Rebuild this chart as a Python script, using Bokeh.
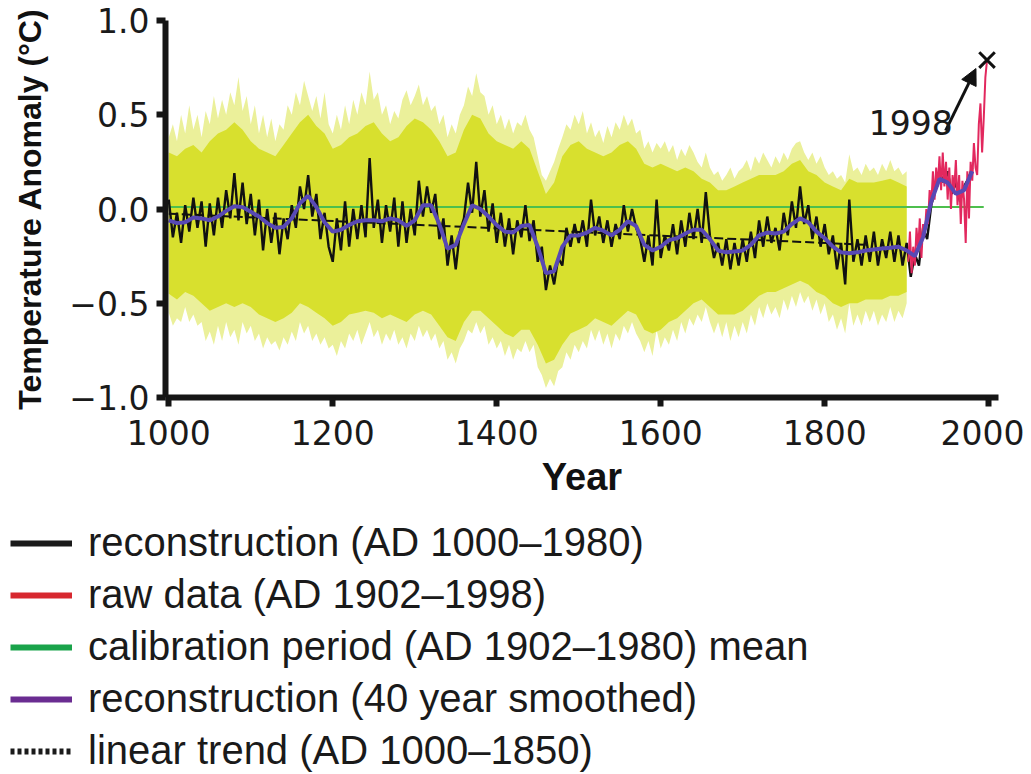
import numpy as np
from bokeh.plotting import figure
from bokeh.models import (Range1d, FixedTicker, Arrow, NormalHead, Label,
                          Legend, LegendItem)
from bokeh.layouts import column
from bokeh.embed import file_html
from bokeh.resources import INLINE

# ---------------- data ----------------
recon_years = list(range(1000, 1981, 5))
recon_vals = [
    0.05, -0.15, -0.02, -0.18, 0.02, -0.12, 0.06, -0.1, 0.04, -0.2, 0.03, -0.14, 0.06, -0.1, 0.1, -0.05, 0.19, -0.06, 0.14, -0.08,
    0.08, -0.14, 0.05, -0.22, 0.0, -0.18, -0.02, -0.24, -0.05, -0.16, 0.02, -0.1, 0.12, 0.0, 0.18, -0.04, 0.08, -0.16, -0.02, -0.2,
    -0.28, -0.05, -0.22, 0.04, -0.2, 0.0, -0.16, 0.02, -0.15, 0.27, -0.1, 0.05, -0.18, 0.02, -0.12, 0.06, -0.2, 0.04, -0.18, 0.0,
    -0.14, 0.15, -0.04, 0.12, -0.02, 0.08, -0.16, -0.05, -0.3, -0.14, -0.32, -0.12, -0.05, 0.14, -0.02, 0.25, -0.04, 0.1, -0.12, 0.03,
    -0.18, -0.02, -0.2, -0.05, -0.24, -0.06, -0.15, 0.02, -0.17, -0.06, -0.28, -0.2, -0.43, -0.3, -0.4, -0.26, -0.3, -0.1, -0.2, -0.08,
    -0.18, -0.06, -0.2, 0.05, -0.14, -0.04, -0.18, -0.06, -0.2, -0.08, -0.16, 0.02, -0.12, 0.0, -0.1, -0.16, -0.28, -0.14, -0.3, 0.05,
    -0.26, -0.14, -0.22, -0.08, -0.24, -0.06, -0.2, -0.02, -0.16, 0.0, -0.18, 0.09, -0.14, -0.26, -0.18, -0.3, -0.16, -0.32, -0.18, -0.3,
    -0.16, -0.28, -0.12, -0.26, -0.06, -0.2, -0.04, -0.18, -0.1, -0.22, -0.02, -0.14, 0.04, -0.1, 0.12, -0.08, 0.02, -0.16, -0.04, -0.2,
    -0.08, -0.24, -0.14, -0.32, -0.18, -0.4, 0.05, -0.28, -0.16, -0.3, -0.14, -0.28, -0.12, -0.3, -0.16, -0.26, -0.12, -0.28, -0.14, -0.3,
    -0.18, -0.36, -0.24, -0.3, -0.1, -0.16, 0.02, 0.1, 0.2, 0.14, 0.2, 0.08, 0.14, 0.04, 0.12, 0.16, 0.22,
]

smooth_years = list(range(1000, 1981, 10))
smooth_vals = [
    -0.06, -0.075, -0.07, -0.045, -0.05, -0.06, -0.04, -0.01, 0.015, 0.01,
    -0.015, -0.04, -0.075, -0.1, -0.095, -0.05, 0.03, 0.07, 0.01, -0.07,
    -0.12, -0.11, -0.085, -0.065, -0.06, -0.06, -0.065, -0.05, -0.06, -0.09,
    -0.06, 0.02, 0.02, -0.08, -0.21, -0.19, -0.08, 0.02, 0.0, -0.04,
    -0.085, -0.12, -0.125, -0.09, -0.085, -0.2, -0.34, -0.33, -0.2, -0.14,
    -0.14, -0.125, -0.1, -0.115, -0.14, -0.11, -0.065, -0.09, -0.19, -0.22,
    -0.2, -0.165, -0.155, -0.13, -0.11, -0.11, -0.16, -0.22, -0.23, -0.225,
    -0.22, -0.19, -0.14, -0.125, -0.13, -0.12, -0.08, -0.05, -0.07, -0.12,
    -0.155, -0.2, -0.23, -0.235, -0.23, -0.22, -0.215, -0.21, -0.205, -0.2,
    -0.22, -0.25, -0.15, 0.04, 0.16, 0.14, 0.08, 0.1, 0.2,
]

band_years = list(range(1000, 1901, 5))
band_hi = [
    0.38, 0.45, 0.36, 0.5, 0.4, 0.55, 0.42, 0.5, 0.38, 0.52, 0.45, 0.6, 0.48, 0.58, 0.5, 0.62, 0.55, 0.7, 0.52, 0.6,
    0.45, 0.55, 0.4, 0.5, 0.38, 0.48, 0.36, 0.45, 0.42, 0.55, 0.5, 0.62, 0.55, 0.68, 0.6, 0.52, 0.6, 0.48, 0.62, 0.45,
    0.4, 0.5, 0.42, 0.55, 0.45, 0.58, 0.5, 0.62, 0.55, 0.73, 0.58, 0.62, 0.5, 0.55, 0.45, 0.52, 0.48, 0.58, 0.63, 0.55,
    0.6, 0.66, 0.55, 0.6, 0.52, 0.55, 0.45, 0.5, 0.38, 0.45, 0.4, 0.5, 0.55, 0.65, 0.6, 0.72, 0.62, 0.6, 0.5, 0.55,
    0.45, 0.5, 0.42, 0.48, 0.4, 0.46, 0.44, 0.5, 0.42, 0.38, 0.28, 0.18, 0.15, 0.2, 0.25, 0.32, 0.38, 0.45, 0.42, 0.5,
    0.45, 0.52, 0.4, 0.46, 0.38, 0.42, 0.35, 0.44, 0.38, 0.46, 0.42, 0.5, 0.44, 0.48, 0.4, 0.42, 0.32, 0.36, 0.3, 0.35,
    0.32, 0.36, 0.3, 0.34, 0.26, 0.32, 0.28, 0.34, 0.3, 0.25, 0.22, 0.3, 0.22, 0.18, 0.2, 0.15, 0.18, 0.22, 0.16, 0.2,
    0.22, 0.26, 0.2, 0.28, 0.24, 0.3, 0.26, 0.22, 0.28, 0.24, 0.3, 0.26, 0.32, 0.35, 0.36, 0.3, 0.26, 0.3, 0.24, 0.28,
    0.22, 0.18, 0.2, 0.16, 0.18, 0.14, 0.29, 0.2, 0.22, 0.18, 0.24, 0.2, 0.22, 0.18, 0.24, 0.2, 0.26, 0.2, 0.22, 0.18, 0.2,
]
band_lo = [
    -0.55, -0.62, -0.58, -0.6, -0.52, -0.6, -0.56, -0.62, -0.6, -0.7, -0.65, -0.72, -0.62, -0.7, -0.6, -0.68, -0.64, -0.72, -0.6, -0.66,
    -0.62, -0.7, -0.66, -0.74, -0.68, -0.72, -0.7, -0.75, -0.68, -0.72, -0.65, -0.7, -0.6, -0.66, -0.62, -0.7, -0.66, -0.72, -0.68, -0.74,
    -0.72, -0.78, -0.7, -0.74, -0.66, -0.7, -0.64, -0.72, -0.66, -0.6, -0.68, -0.64, -0.72, -0.66, -0.7, -0.64, -0.72, -0.68, -0.74, -0.66,
    -0.7, -0.62, -0.68, -0.64, -0.7, -0.66, -0.74, -0.7, -0.8, -0.76, -0.82, -0.74, -0.7, -0.64, -0.66, -0.6, -0.66, -0.62, -0.72, -0.68,
    -0.74, -0.7, -0.78, -0.72, -0.8, -0.74, -0.76, -0.7, -0.76, -0.72, -0.84, -0.88, -0.95, -0.9, -0.94, -0.86, -0.84, -0.76, -0.8, -0.72,
    -0.76, -0.7, -0.74, -0.64, -0.7, -0.64, -0.72, -0.66, -0.74, -0.66, -0.7, -0.62, -0.66, -0.6, -0.66, -0.7, -0.76, -0.7, -0.78, -0.64,
    -0.74, -0.68, -0.72, -0.64, -0.7, -0.6, -0.66, -0.58, -0.62, -0.56, -0.6, -0.52, -0.6, -0.66, -0.6, -0.68, -0.6, -0.7, -0.62, -0.68,
    -0.6, -0.66, -0.56, -0.62, -0.52, -0.58, -0.5, -0.56, -0.52, -0.58, -0.48, -0.54, -0.46, -0.52, -0.44, -0.5, -0.46, -0.54, -0.48, -0.56,
    -0.5, -0.6, -0.56, -0.64, -0.58, -0.66, -0.5, -0.62, -0.56, -0.62, -0.54, -0.6, -0.54, -0.62, -0.56, -0.6, -0.52, -0.6, -0.54, -0.58, -0.5,
]

core_years = list(range(1000, 1901, 10))
core_hi = [
    0.3, 0.28, 0.32, 0.34, 0.3, 0.36, 0.4, 0.42, 0.46, 0.42,
    0.36, 0.32, 0.3, 0.28, 0.34, 0.4, 0.46, 0.5, 0.44, 0.4,
    0.32, 0.34, 0.38, 0.4, 0.44, 0.46, 0.4, 0.36, 0.38, 0.44,
    0.48, 0.46, 0.42, 0.36, 0.28, 0.3, 0.42, 0.5, 0.48, 0.4,
    0.36, 0.34, 0.32, 0.36, 0.32, 0.2, 0.08, 0.14, 0.28, 0.34,
    0.36, 0.32, 0.3, 0.28, 0.3, 0.34, 0.36, 0.32, 0.24, 0.22,
    0.24, 0.22, 0.2, 0.22, 0.2, 0.16, 0.14, 0.1, 0.1, 0.12,
    0.14, 0.16, 0.18, 0.18, 0.18, 0.2, 0.24, 0.26, 0.2, 0.18,
    0.14, 0.12, 0.1, 0.16, 0.14, 0.14, 0.14, 0.15, 0.16, 0.14, 0.12,
]
core_lo = [
    -0.45, -0.48, -0.44, -0.46, -0.5, -0.54, -0.52, -0.5, -0.52, -0.5,
    -0.52, -0.56, -0.58, -0.6, -0.58, -0.55, -0.5, -0.52, -0.55, -0.58,
    -0.62, -0.6, -0.56, -0.55, -0.54, -0.55, -0.58, -0.56, -0.58, -0.6,
    -0.56, -0.54, -0.56, -0.62, -0.68, -0.7, -0.6, -0.54, -0.54, -0.58,
    -0.62, -0.66, -0.68, -0.64, -0.64, -0.72, -0.82, -0.8, -0.72, -0.66,
    -0.64, -0.62, -0.58, -0.6, -0.62, -0.58, -0.54, -0.56, -0.64, -0.66,
    -0.64, -0.6, -0.58, -0.54, -0.5, -0.48, -0.52, -0.56, -0.56, -0.56,
    -0.54, -0.5, -0.46, -0.44, -0.44, -0.42, -0.4, -0.38, -0.4, -0.44,
    -0.46, -0.5, -0.52, -0.5, -0.5, -0.48, -0.48, -0.48, -0.46, -0.46, -0.44,
]

raw_years = list(range(1902, 1999, 2))
raw_vals = [
    -0.28, -0.12, -0.34, -0.2, -0.3, -0.1, -0.22, -0.05, -0.26, -0.08,
    -0.14, 0.0, -0.08, 0.1, 0.02, 0.2, 0.05, 0.22, 0.12, 0.28,
    0.1, 0.3, 0.12, 0.25, 0.05, 0.22, 0.0, 0.18, 0.1, 0.26,
    0.02, 0.18, -0.08, 0.15, 0.05, -0.18, 0.2, -0.05, 0.25, 0.15,
    0.35, 0.22, 0.18, 0.45, 0.56, 0.3, 0.48, 0.7, 0.79,
]

calib_years = [1000, 1994]
calib_vals = [0.01, 0.01]
trend_years = [1000, 1850]
trend_vals = [-0.025, -0.19]
peak_year = [1998]
peak_val = [0.79]

x_ticks = [1000, 1200, 1400, 1600, 1800, 2000]
y_ticks = [-1.0, -0.5, 0.0, 0.5, 1.0]
y_tick_labels = ["\u22121.0", "\u22120.5", "0.0", "0.5", "1.0"]

legend_labels = [
    "reconstruction (AD 1000\u20131980)",
    "raw data (AD 1902\u20131998)",
    "calibration period (AD 1902\u20131980) mean",
    "reconstruction (40 year smoothed)",
    "linear trend (AD 1000\u20131850)",
]

# annotation anchors (data units)
ARROW_FROM = (1947.5, 0.416)
ARROW_TO = (1984.5, 0.745)
NOTE_POS = (1905.0, 0.459)

# ---------------- main chart ----------------
p = figure(width=1024, height=512, x_range=Range1d(996, 2012), y_range=Range1d(-1, 1),
           toolbar_location=None, output_backend="svg",
           min_border_left=165, min_border_right=26, min_border_top=20, min_border_bottom=115,
           outline_line_color=None, background_fill_color="white")
p.frame_align = False
p.xgrid.visible = False
p.ygrid.visible = False

p.varea(x=band_years, y1=band_lo, y2=band_hi, fill_color="#ebf09a")
p.varea(x=core_years, y1=core_lo, y2=core_hi, fill_color="#d8e02e")
p.line(calib_years, calib_vals, line_color="#4dbf4d", line_width=2)
p.line(recon_years, recon_vals, line_color="#111111", line_width=2.4)
p.line(raw_years, raw_vals, line_color="#e2285e", line_width=2)
p.line(trend_years, trend_vals, line_color="#111111", line_width=2, line_dash="9 4")
p.line(smooth_years, smooth_vals, line_color="#5849b5", line_width=4)
p.scatter(peak_year, peak_val, marker="x", size=22, line_width=3, line_color="#111111")

p.add_layout(Arrow(end=NormalHead(size=16, fill_color="#111111", line_color="#111111"),
                   x_start=ARROW_FROM[0], y_start=ARROW_FROM[1],
                   x_end=ARROW_TO[0], y_end=ARROW_TO[1],
                   line_width=3, line_color="#111111"))
p.add_layout(Label(x=NOTE_POS[0], y=NOTE_POS[1], text="1998", text_align="center",
                   text_baseline="middle", text_font="DejaVu Sans", text_font_size="33px",
                   text_color="#1a1a1a"))

for ax in (p.xaxis[0], p.yaxis[0]):
    ax.axis_line_width = 6
    ax.axis_line_color = "#151515"
    ax.major_tick_line_width = 6
    ax.major_tick_line_color = "#151515"
    ax.major_tick_out = 9
    ax.major_tick_in = 0
    ax.minor_tick_line_color = None
    ax.major_label_text_font = "DejaVu Sans"
    ax.major_label_text_font_size = "33px"
    ax.major_label_text_color = "#1a1a1a"
    ax.axis_label_text_font = "Liberation Sans"
    ax.axis_label_text_font_style = "bold"
    ax.axis_label_text_color = "#111111"

p.xaxis.ticker = FixedTicker(ticks=x_ticks)
p.yaxis.ticker = FixedTicker(ticks=y_ticks)
p.yaxis.major_label_overrides = dict(zip(y_ticks, y_tick_labels))
p.yaxis.axis_label = "Temperature Anomaly (\u00b0C)"
p.yaxis.axis_label_text_font_size = "32px"
p.yaxis.major_label_standoff = 7
p.yaxis.axis_label_standoff = 18
p.xaxis.axis_label = "Year"
p.xaxis.axis_label_text_font_size = "38px"
p.xaxis.major_label_standoff = 13
p.xaxis.axis_label_standoff = 8

# ---------------- legend panel ----------------
p2 = figure(width=1024, height=262, x_range=Range1d(0, 1), y_range=Range1d(0, 1),
            toolbar_location=None, output_backend="svg", min_border=0,
            x_axis_location=None, y_axis_location=None, outline_line_color=None)
p2.frame_align = False
p2.xgrid.visible = False
p2.ygrid.visible = False

legend_styles = [
    dict(line_color="#1a1a1a", line_width=6),
    dict(line_color="#d7282f", line_width=6),
    dict(line_color="#19a34a", line_width=6),
    dict(line_color="#6a2c91", line_width=6),
    dict(line_color="#1a1a1a", line_width=6, line_dash="4 3"),
]
items = []
for lab, st in zip(legend_labels, legend_styles):
    r = p2.line(x=[0, 1], y=[-5, -5], **st)   # kept outside the visible range; only the legend swatch shows
    items.append(LegendItem(label=lab, renderers=[r]))

legend = Legend(items=items, location=(10, 1), padding=0, margin=0,
                border_line_color=None, background_fill_alpha=0,
                glyph_width=62, glyph_height=44, label_height=44,
                label_standoff=16, spacing=7,
                label_text_font="Liberation Sans", label_text_font_size="40px",
                label_text_color="#1a1a1a")
p2.add_layout(legend)

layout = column(p, p2, spacing=0)
open("out.html", "w").write(file_html(layout, INLINE))
